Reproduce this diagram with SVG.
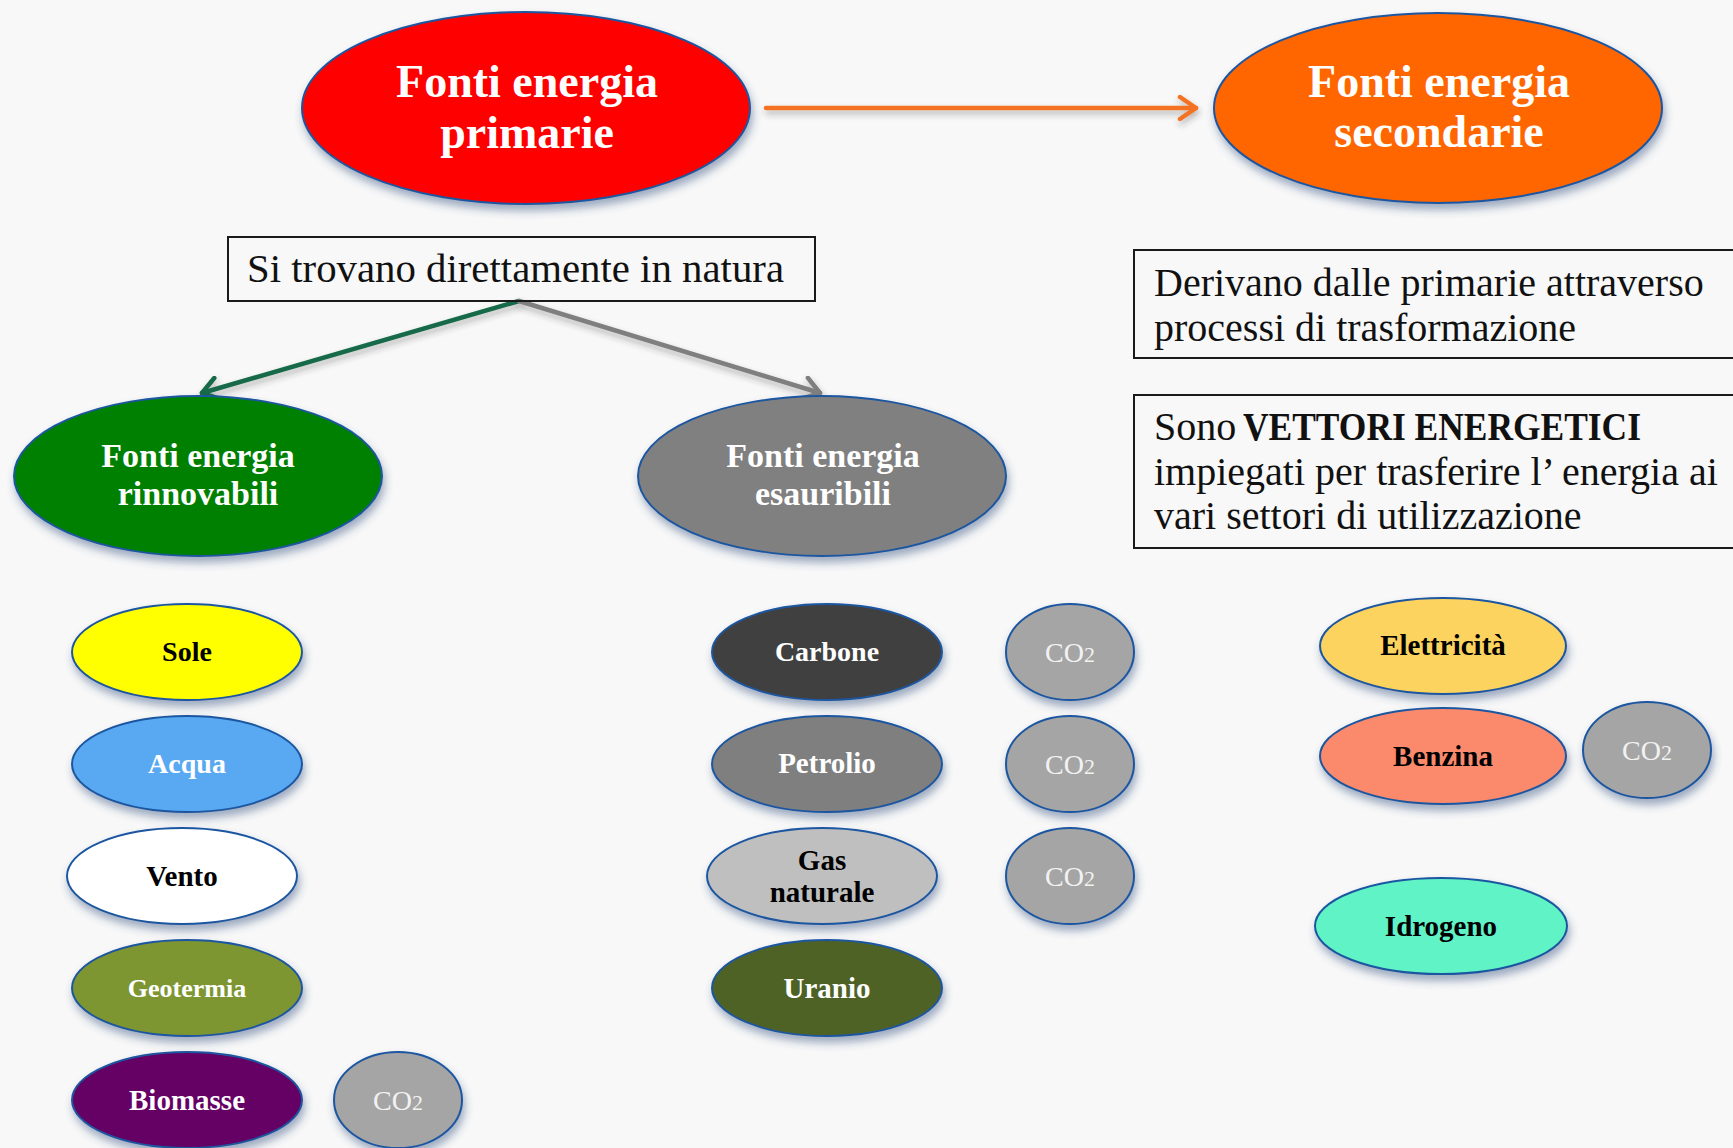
<svg xmlns="http://www.w3.org/2000/svg" width="1733" height="1148" viewBox="0 0 1733 1148">
<style>
.node{stroke:#1d57a0;stroke-width:2;filter:url(#sh)}
.t{font-family:"Liberation Serif","Times New Roman",serif;font-weight:bold;text-anchor:middle}
.w{fill:#ffffff}
.k{fill:#000000}
.co{font-family:"Liberation Serif","Times New Roman",serif;font-weight:normal;text-anchor:middle;fill:#f2f2f2;font-size:28px}
.box{fill:none;stroke:#1a1a1a;stroke-width:2}
.bt{font-family:"Liberation Serif","Times New Roman",serif;font-size:40px;fill:#111111}
.con{fill:none;stroke-width:4.5;stroke-linecap:round;filter:url(#lsh)}
</style>
<defs>
<filter id="sh" x="-20%" y="-20%" width="140%" height="150%">
<feDropShadow dx="2" dy="6" stdDeviation="4" flood-color="#2a4a7a" flood-opacity="0.45"/>
</filter>
<filter id="lsh" filterUnits="userSpaceOnUse" x="0" y="0" width="1733" height="1148">
<feDropShadow dx="1" dy="4" stdDeviation="3" flood-color="#333333" flood-opacity="0.35"/>
</filter>
<marker id="ao" viewBox="-20 -13 24 26" refX="0" refY="0" markerWidth="24" markerHeight="26" markerUnits="userSpaceOnUse" orient="auto">
<path d="M-16,-11 L0,0 L-16,11" fill="none" stroke="#f47321" stroke-width="4.5" stroke-linecap="round" stroke-linejoin="round"/>
</marker>
<marker id="ag" viewBox="-20 -13 24 26" refX="0" refY="0" markerWidth="24" markerHeight="26" markerUnits="userSpaceOnUse" orient="auto">
<path d="M-16,-11 L0,0 L-16,11" fill="none" stroke="#166b48" stroke-width="4.5" stroke-linecap="round" stroke-linejoin="round"/>
</marker>
<marker id="ay" viewBox="-20 -13 24 26" refX="0" refY="0" markerWidth="24" markerHeight="26" markerUnits="userSpaceOnUse" orient="auto">
<path d="M-16,-11 L0,0 L-16,11" fill="none" stroke="#7f7f7f" stroke-width="4.5" stroke-linecap="round" stroke-linejoin="round"/>
</marker>
</defs>
<rect x="0" y="0" width="1733" height="1148" fill="#f8f8f8"/>

<g id="connectors">
<path class="con" d="M766,108 L1196,108" stroke="#f47321" marker-end="url(#ao)"/>
<path class="con" d="M519,301 L202,393" stroke="#166b48" marker-end="url(#ag)"/>
<path class="con" d="M519,301 L820,393" stroke="#7f7f7f" marker-end="url(#ay)"/>
</g>

<g id="primarie">
<ellipse class="node" cx="526" cy="108" rx="224" ry="96" fill="#ff0000"/>
<text class="t w" x="527" y="97" font-size="46">Fonti energia</text>
<text class="t w" x="527" y="148" font-size="46">primarie</text>
</g>
<g id="secondarie">
<ellipse class="node" cx="1438" cy="108" rx="224" ry="95" fill="#ff6600"/>
<text class="t w" x="1439" y="97" font-size="46">Fonti energia</text>
<text class="t w" x="1439" y="147" font-size="46">secondarie</text>
</g>

<g id="box-natura">
<rect class="box" x="228" y="237" width="587" height="64"/>
<text class="bt" x="247" y="282" textLength="537" lengthAdjust="spacingAndGlyphs">Si trovano direttamente in natura</text>
</g>
<g id="box-derivano">
<rect class="box" x="1134" y="250" width="610" height="108"/>
<text class="bt" x="1154" y="296">Derivano dalle primarie attraverso</text>
<text class="bt" x="1154" y="341">processi di trasformazione</text>
</g>
<g id="box-vettori">
<rect class="box" x="1134" y="395" width="610" height="153"/>
<text class="bt" x="1154" y="440">Sono</text>
<text class="bt" x="1243" y="440" font-weight="bold" textLength="398" lengthAdjust="spacingAndGlyphs">VETTORI ENERGETICI</text>
<text class="bt" x="1154" y="485">impiegati per trasferire l’ energia ai</text>
<text class="bt" x="1154" y="529">vari settori di utilizzazione</text>
</g>

<g id="rinnovabili">
<ellipse class="node" cx="198" cy="476" rx="184" ry="80" fill="#008000"/>
<text class="t w" x="198" y="467" font-size="34">Fonti energia</text>
<text class="t w" x="198" y="505" font-size="34">rinnovabili</text>
</g>
<g id="esauribili">
<ellipse class="node" cx="822" cy="476" rx="184" ry="80" fill="#808080"/>
<text class="t w" x="823" y="467" font-size="34">Fonti energia</text>
<text class="t w" x="823" y="505" font-size="34">esauribili</text>
</g>

<g id="sole">
<ellipse class="node" cx="187" cy="652" rx="115" ry="48" fill="#ffff00"/>
<text class="t k" x="187" y="661" font-size="28">Sole</text>
</g>
<g id="acqua">
<ellipse class="node" cx="187" cy="764" rx="115" ry="48" fill="#58a8f2"/>
<text class="t w" x="187" y="773" font-size="28">Acqua</text>
</g>
<g id="vento">
<ellipse class="node" cx="182" cy="876" rx="115" ry="48" fill="#ffffff"/>
<text class="t k" x="182" y="886" font-size="29">Vento</text>
</g>
<g id="geotermia">
<ellipse class="node" cx="187" cy="988" rx="115" ry="48" fill="#7e9632"/>
<text class="t w" x="187" y="997" font-size="26">Geotermia</text>
</g>
<g id="biomasse">
<ellipse class="node" cx="187" cy="1100" rx="115" ry="48" fill="#650065"/>
<text class="t w" x="187" y="1110" font-size="29">Biomasse</text>
</g>
<g id="co2-biomasse">
<ellipse class="node" cx="398" cy="1100" rx="64" ry="48" fill="#a5a5a5"/>
<text class="co" x="398" y="1110">CO<tspan font-size="22">2</tspan></text>
</g>

<g id="carbone">
<ellipse class="node" cx="827" cy="652" rx="115" ry="48" fill="#404040"/>
<text class="t w" x="827" y="661" font-size="28">Carbone</text>
</g>
<g id="co2-carbone">
<ellipse class="node" cx="1070" cy="652" rx="64" ry="48" fill="#a5a5a5"/>
<text class="co" x="1070" y="662">CO<tspan font-size="22">2</tspan></text>
</g>
<g id="petrolio">
<ellipse class="node" cx="827" cy="764" rx="115" ry="48" fill="#7f7f7f"/>
<text class="t w" x="827" y="773" font-size="29">Petrolio</text>
</g>
<g id="co2-petrolio">
<ellipse class="node" cx="1070" cy="764" rx="64" ry="48" fill="#a5a5a5"/>
<text class="co" x="1070" y="774">CO<tspan font-size="22">2</tspan></text>
</g>
<g id="gas">
<ellipse class="node" cx="822" cy="876" rx="115" ry="48" fill="#bfbfbf"/>
<text class="t k" x="822" y="870" font-size="29">Gas</text>
<text class="t k" x="822" y="902" font-size="29">naturale</text>
</g>
<g id="co2-gas">
<ellipse class="node" cx="1070" cy="876" rx="64" ry="48" fill="#a5a5a5"/>
<text class="co" x="1070" y="886">CO<tspan font-size="22">2</tspan></text>
</g>
<g id="uranio">
<ellipse class="node" cx="827" cy="988" rx="115" ry="48" fill="#4f6228"/>
<text class="t w" x="827" y="998" font-size="29">Uranio</text>
</g>

<g id="elettricita">
<ellipse class="node" cx="1443" cy="646" rx="123" ry="48" fill="#fdd35e"/>
<text class="t k" x="1443" y="655" font-size="29">Elettricità</text>
</g>
<g id="benzina">
<ellipse class="node" cx="1443" cy="756" rx="123" ry="48" fill="#fb8a6c"/>
<text class="t k" x="1443" y="766" font-size="29">Benzina</text>
</g>
<g id="co2-benzina">
<ellipse class="node" cx="1647" cy="750" rx="64" ry="48" fill="#a5a5a5"/>
<text class="co" x="1647" y="760">CO<tspan font-size="22">2</tspan></text>
</g>
<g id="idrogeno">
<ellipse class="node" cx="1441" cy="926" rx="126" ry="48" fill="#5ff3c6"/>
<text class="t k" x="1441" y="936" font-size="29">Idrogeno</text>
</g>
</svg>
